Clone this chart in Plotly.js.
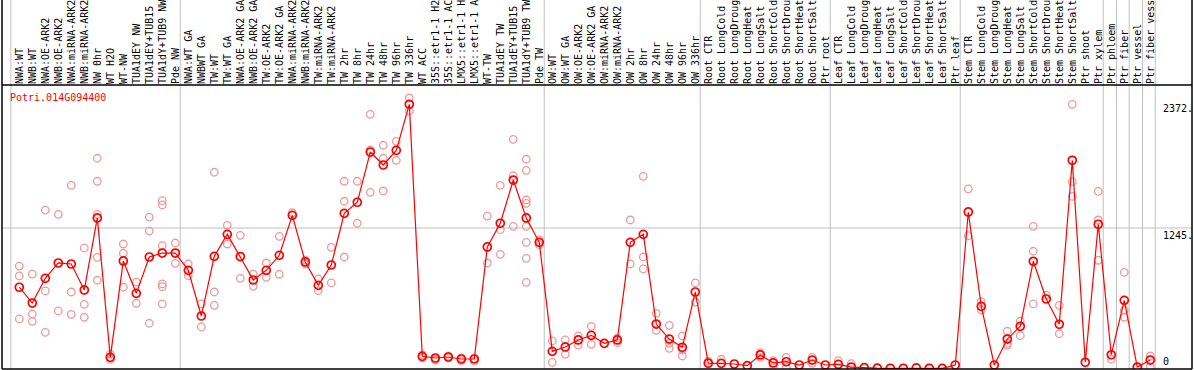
<!DOCTYPE html>
<html>
<head>
<meta charset="utf-8">
<script src="https://cdn.plot.ly/plotly-3.0.1.min.js"></script>
<style>
html,body{margin:0;padding:0;background:#fff;}
#chart{width:1194px;height:370px;}
</style>
</head>
<body>
<div id="chart"></div>
<script>
const geneId = "Potri.014G094400";

// labels as shown in the reference (long names are truncated there)
const categories = [
  "NWA:WT","NWB:WT","NWA:OE-ARK2","NWB:OE-ARK2","NWA:miRNA-ARK2","NWB:miRNA-ARK2","NW 0hr","WT H2O","WT-NW","TUA1dEY NW","TUA1dEY+TUB15","TUA1dY+TUB9 NW","Pde NW",
  "NWA:WT GA","NWBWT GA","TW:WT","TW:WT GA","NWA:OE-ARK2 GA","NWB:OE-ARK2 GA","TW:OE-ARK2","TW:OE-ARK2 GA","NWA:miRNA-ARK2","NWB:miRNA-ARK2","TW:miRNA-ARK2","TW:miRNA-ARK2",
  "TW 2hr","TW 8hr","TW 24hr","TW 48hr","TW 96hr","TW 336hr","WT ACC","35S::etr1-1 H2","35S::etr1-1 AC","LMX5::etr1-1 H","LMX5::etr1-1 A","WT-TW","TUA1dEY TW","TUA1dEY+TUB15","TUA1dY+TUB9 TW","Pde TW",
  "OW:WT","OW:WT GA","OW:OE-ARK2","OW:OE-ARK2 GA","OW:miRNA-ARK2","OW:miRNA-ARK2","OW 2hr","OW 8hr","OW 24hr","OW 48hr","OW 96hr","OW 336hr",
  "Root CTR","Root LongCold","Root LongDroug","Root LongHeat","Root LongSalt","Root ShortCold","Root ShortDrou","Root ShortHeat","Root ShortSalt","Ptr root",
  "Leaf CTR","Leaf LongCold","Leaf LongDroug","Leaf LongHeat","Leaf LongSalt","Leaf ShortCold","Leaf ShortDrou","Leaf ShortHeat","Leaf ShortSalt","Ptr leaf",
  "Stem CTR","Stem LongCold","Stem LongDroug","Stem LongHeat","Stem LongSalt","Stem ShortCold","Stem ShortDrou","Stem ShortHeat","Stem ShortSalt","Ptr shoot","Ptr xylem",
  "Ptr phloem","Ptr fiber","Ptr vessel","Ptr fiber vess"
];

const meanValues = [
  720,580,799,935,926,696,1334,99,953,666,988,1023,1023,
  870,465,994,1189,992,784,870,1003,1357,944,737,917,
  1375,1473,1918,1803,1933,2341,108,93,102,84,84,1077,1287,1670,1334,1118,
  152,191,253,294,223,253,1118,1189,394,261,188,678,
  47,46,40,25,120,49,60,31,75,31,
  37,13,7,3,2,2,6,2,1,31,
  1387,551,31,261,374,950,616,392,1845,55,1278,
  122,604,13,75
];

const replicates = [
  [908,820,439],[837,483,418],[1404,687,321],[1366,510],[1623,678,480],[1068,569,454],[1863,1659,1366,985,782],[128,80],[1103,1021,720],[766,578],[1342,1218,401],[1487,1449,1088,749,725,572],[1112,932],
  [926,822],[572,368],[1739,678,560],[1269,1103],[1180,799],[837,728],[935,808],[1171,835],[1380],[961,926],[793,689],[1074,758],
  [1659,1482,988],[1659,1287],[2252,1936,1561],[1978,1863,1573],[2013,1845],[2397,2282],[95,120],[85,75],[110,95],[70,95],[65,90],[1351,935],[1623,1230,1012],[2031,1708,1260],[1854,1756,1493,1464,1260,1118,976,764],[1139,1097],
  [244,55],[253,126],[288,208],[374,214],[],[270,229],[1316,926],[1703,988,882],[489,338],[383,223,179],[288,164,111],[758,589],
  [66],[82],[],[],[140,99],[69,25],[99,11],[],[99,46],[],
  [69],[43],[],[],[],[],[],[],[],[],
  [1591,1177],[592,518],[],[330,223,208],[421,291],[1260,1039,572],[651],[560,308],[2341,1655,1526],[],[1570,1316,959],
  [82],[852,518,454],[],[111,16]
];

const yLabels = ["2372.","1245.","0"];
const yLabelValues = [2372,1245,0];
const groupSeparators = [-0.65,12.38,40.38,52.38,62.38,72.38,83.38,84.4,85.38,86.4,87.38];

const idx = categories.map((c,i)=>i);
const repX = [], repY = [];
replicates.forEach((arr,i)=>arr.forEach(v=>{repX.push(i);repY.push(v);}));

const mono = "DejaVu Sans Mono, monospace";
const plotTopPx = 85, plotBotPx = 369;
const topPaper = (plotBotPx - 0) / (plotBotPx - plotTopPx);

const traces = [
  {x:repX, y:repY, type:'scatter', mode:'markers', hoverinfo:'skip',
   marker:{symbol:'circle-open', size:7.5, color:'#ee9a9a', line:{width:1.3, color:'#ee9a9a'}}},
  {x:idx, y:meanValues, type:'scatter', mode:'lines+markers',
   line:{color:'#ff0000', width:1.2},
   marker:{symbol:'circle-open', size:8, color:'#ff0000', line:{width:1.7, color:'#ff0000'}}}
];

const shapes = [];
groupSeparators.forEach(g=>shapes.push({type:'line', xref:'x', yref:'paper', x0:g, x1:g, y0:0, y1:topPaper, line:{color:'#c0c0c0', width:1}, layer:'below'}));
shapes.push({type:'line', xref:'paper', yref:'y', x0:0, x1:1, y0:1245, y1:1245, line:{color:'#c0c0c0', width:1}, layer:'below'});
shapes.push({type:'line', xref:'paper', yref:'paper', x0:0, x1:1, y0:1, y1:1, line:{color:'#000', width:1.5}});
shapes.push({type:'line', xref:'paper', yref:'paper', x0:0, x1:1, y0:0, y1:0, line:{color:'#000', width:1.5}});
shapes.push({type:'line', xref:'paper', yref:'paper', x0:0, x1:0, y0:0, y1:topPaper, line:{color:'#000', width:1.5}});
shapes.push({type:'line', xref:'paper', yref:'paper', x0:1, x1:1, y0:0, y1:topPaper, line:{color:'#000', width:1.5}});

const annotations = [
  {text:geneId, xref:'paper', yref:'paper', x:0.005, y:(plotBotPx-97)/(plotBotPx-plotTopPx), xanchor:'left', yanchor:'middle', showarrow:false, font:{family:mono, size:10, color:'#ff0000'}}
];
yLabels.forEach((t,k)=>annotations.push({text:t, xref:'paper', yref:'y', x:(1161-2)/1190, y:yLabelValues[k], xanchor:'left', yanchor: yLabelValues[k]===0 ? 'bottom':'top', showarrow:false, font:{family:mono, size:10, color:'#000'}}));

const layout = {
  width:1194, height:370,
  margin:{l:2, r:2, t:85, b:1, pad:0},
  paper_bgcolor:'#fff', plot_bgcolor:'#fff',
  showlegend:false,
  xaxis:{range:[-1.331, 90.21], side:'top', tickmode:'array', tickvals:idx, ticktext:categories, tickangle:-90,
         tickfont:{family:mono, size:10, color:'#000'}, showgrid:false, zeroline:false, showline:false, ticks:'', fixedrange:true},
  yaxis:{range:[-4.4, 2512], showgrid:false, zeroline:false, showticklabels:false, ticks:'', showline:false, fixedrange:true},
  shapes:shapes,
  annotations:annotations
};

Plotly.newPlot('chart', traces, layout, {displayModeBar:false, staticPlot:true});
</script>
</body>
</html>
